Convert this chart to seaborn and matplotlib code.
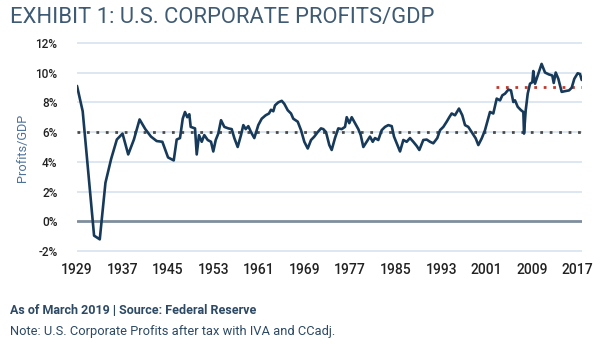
import matplotlib
matplotlib.use("Agg")
import matplotlib.pyplot as plt
import seaborn as sns
import pandas as pd

# ---- data ----
years = [1929, 1930, 1931, 1932, 1933, 1934, 1935, 1936, 1937, 1938, 1939, 1940,
         1941, 1942, 1943, 1944, 1945, 1946,
         1946.52, 1947.10, 1947.58, 1947.98, 1948.38, 1948.74, 1948.98, 1949.74,
         1950.04, 1950.44, 1950.92, 1951.37, 1951.97, 1952.55, 1952.95, 1953.38,
         1953.83, 1954.31, 1954.89, 1955.59, 1956.19, 1956.65, 1957.24, 1957.82,
         1958.23, 1958.65, 1959.11, 1959.58, 1960.16, 1960.86, 1961.46, 1962.16,
         1962.74, 1963.09, 1963.50, 1963.80, 1964.38, 1964.98, 1965.43, 1966.03,
         1966.61, 1967.01, 1967.79, 1968.37, 1968.95, 1969.55, 1970.13, 1970.71,
         1971.30, 1971.88, 1972.29, 1972.76, 1973.34, 1973.76, 1974.34, 1974.92,
         1975.52, 1976.10, 1976.40, 1976.85, 1977.28, 1977.86, 1978.44, 1978.86,
         1979.32, 1979.91, 1980.49, 1980.97, 1981.37, 1981.95, 1982.55, 1983.13,
         1983.71, 1984.31, 1984.71, 1985.19, 1985.77, 1986.35, 1986.94, 1987.52,
         1988.10, 1988.70, 1989.16, 1989.86, 1990.46, 1991.04, 1991.62, 1992.32,
         1992.80, 1993.38, 1993.97, 1994.43, 1994.85, 1995.43, 1996.13, 1996.71,
         1997.19, 1997.77, 1998.37, 1999.07, 1999.53, 2000.13, 2000.70, 2001.18,
         2001.58, 2002.16, 2002.76, 2003.34, 2003.75, 2004.22, 2004.80, 2005.27,
         2005.68, 2005.98, 2006.45, 2007.03, 2007.44, 2007.56, 2007.86, 2008.21,
         2008.61, 2009.02, 2009.19, 2009.49, 2009.97, 2010.65, 2011.25, 2011.95,
         2012.53, 2012.78, 2013.13, 2013.59, 2014.18, 2014.76, 2015.47, 2015.94,
         2016.40, 2016.99, 2017.40, 2017.70]
profits_gdp = [9.1, 7.4, 3.2, -0.95, -1.2, 2.6, 4.2, 5.5, 5.9, 4.5, 5.5, 6.85,
               6.2, 5.7, 5.4, 5.35, 4.3, 4.1,
               5.5, 5.6, 6.9, 7.35, 7.0, 7.2, 6.35, 6.25,
               4.5, 5.8, 5.35, 5.8, 5.47, 5.35, 4.7, 5.47,
               5.9, 6.8, 6.35, 6.25, 6.2, 5.6, 5.0, 5.8,
               6.47, 6.2, 6.4, 6.0, 5.6, 6.47, 6.9, 7.13,
               7.25, 7.5, 7.4, 7.8, 8.0, 8.1, 7.9, 7.47,
               7.25, 6.9, 6.7, 6.13, 5.35, 4.9, 5.47, 5.7,
               6.0, 6.25, 6.2, 6.0, 5.13, 4.8, 5.6, 6.25,
               6.2, 6.35, 7.0, 6.6, 7.0, 6.6, 6.2, 5.8,
               5.0, 5.35, 5.7, 5.35, 5.6, 5.47, 6.13, 6.35,
               6.47, 6.4, 5.7, 5.25, 4.7, 5.47, 5.35, 5.6,
               5.35, 5.07, 4.8, 5.47, 5.5, 5.35, 5.25, 5.6,
               6.13, 6.35, 6.7, 7.0, 7.25, 7.13, 7.58, 7.13,
               6.47, 6.35, 6.0, 5.58, 5.13, 5.58, 6.13, 6.8,
               7.35, 7.25, 8.25, 8.13, 8.47, 8.58, 8.85, 8.8,
               8.02, 8.13, 7.7, 7.47, 7.35, 5.9, 7.47, 8.58,
               9.25, 9.35, 10.1, 9.25, 9.8, 10.58, 10.0, 9.87,
               9.8, 9.3, 10.0, 9.58, 8.7, 8.75, 8.8, 8.98,
               9.58, 9.95, 9.9, 9.5]

tick_years = [1929, 1937, 1945, 1953, 1961, 1969, 1977, 1985, 1993, 2001, 2009, 2017]
y_ticks = [-2, 0, 2, 4, 6, 8, 10, 12]
long_avg = 6.0
recent_avg = 9.0
recent_start = 2002.6

df = pd.DataFrame({"year": years, "value": profits_gdp})

sns.set_theme(style="white")
plt.rcParams["font.family"] = ["Roboto", "DejaVu Sans"]

fig = plt.figure(figsize=(6.0, 3.44), dpi=100)
ax = fig.add_axes([77 / 600, 1 - 252 / 344, (582 - 77) / 600, (252 - 42) / 344])

x_min, x_max = 1929, 2017.75
for t in y_ticks:
    if t == 0:
        ax.axhline(t, color="#7e8e9d", lw=2.0, zorder=1)
    else:
        ax.axhline(t, color="#dce7f1", lw=1.4, zorder=1)

ax.hlines(long_avg, x_min, x_max, colors="#4a4a4a", linestyles=(0, (1.0, 2.4)), lw=2.0, zorder=2)
ax.hlines(recent_avg, recent_start, x_max, colors="#c0392b", linestyles=(0, (1.0, 2.4)), lw=2.0, zorder=2)

sns.lineplot(data=df, x="year", y="value", ax=ax, color="#173a5a", lw=1.9,
             estimator=None, sort=False, zorder=3)

ax.set_xlim(x_min, x_max)
ax.set_ylim(-2.05, 12.05)
ax.set_xticks(tick_years)
ax.set_xticklabels([str(y) for y in tick_years], fontsize=10, color="#222222", fontweight="medium")
ax.set_yticks(y_ticks)
ax.set_yticklabels([f"{t}%" for t in y_ticks], fontsize=8.5, color="#222222", fontweight="medium")
ax.tick_params(axis="x", length=0, pad=8)
ax.tick_params(axis="y", length=0, pad=14)
for s in ax.spines.values():
    s.set_visible(False)
ax.set_xlabel("")
ax.set_ylabel("")

fig.text(22 / 600, 1 - 148 / 344, "Profits/GDP", rotation=90, ha="center", va="center",
         fontsize=9.2, color="#4d7298")

fig.text(10 / 600, 1 - 18 / 344, "EXHIBIT 1: U.S. CORPORATE PROFITS/GDP", ha="left", va="center",
         fontsize=15.8, color="#3f5b74")
fig.text(10 / 600, 1 - 310 / 344, "As of March 2019 | Source: Federal Reserve", ha="left", va="center",
         fontsize=9, color="#2d4963", fontweight="semibold")
fig.text(10 / 600, 1 - 332 / 344, "Note: U.S. Corporate Profits after tax with IVA and CCadj.", ha="left",
         va="center", fontsize=9.3, color="#2d4963")

fig.savefig("out.png", dpi=100, facecolor="white")
